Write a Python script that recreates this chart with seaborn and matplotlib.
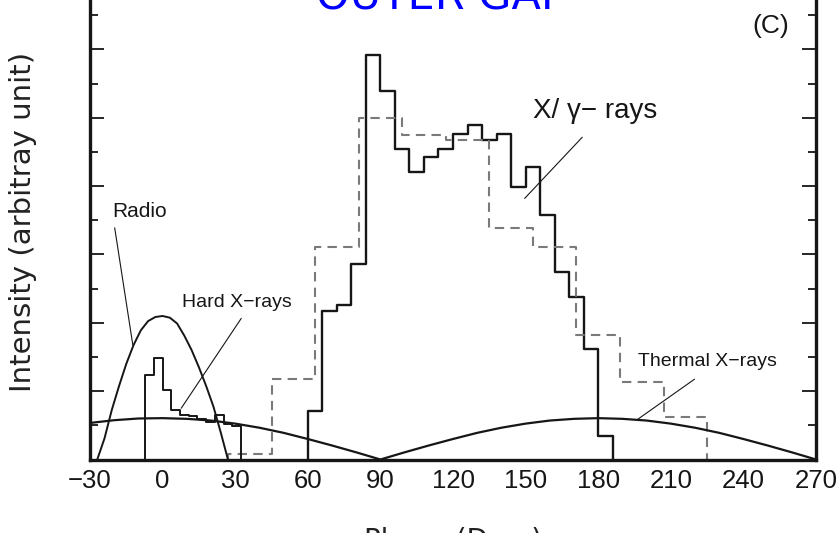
import numpy as np
import pandas as pd
import matplotlib
matplotlib.use("Agg")
import matplotlib.pyplot as plt
import seaborn as sns
from matplotlib.ticker import MultipleLocator

# X/gamma-ray light curve (solid), 6 deg bins starting at 60
xg_edges = np.arange(60, 187, 6)
xg_vals = [1.43, 4.35, 4.52, 5.71, 11.85, 10.79, 9.10, 8.40, 8.86, 9.08, 9.52,
           9.79, 9.35, 9.52, 7.96, 8.57, 7.15, 5.48, 4.76, 3.23, 0.68]

# model curve (dashed), 18 deg bins starting at 27
model_edges = np.arange(27, 226, 18)
model_vals = [0.15, 2.36, 6.21, 9.99, 9.50, 9.35, 6.77, 6.21, 3.64, 2.26, 1.24]

# hard X-ray pulse (solid), 3.6 deg bins
hard_edges = np.round(np.arange(-7.2, 32.5, 3.6), 1)
hard_vals = [2.48, 2.98, 2.02, 1.46, 1.29, 1.26, 1.19, 1.09, 1.29, 1.04, 0.97]

# radio pulse
radio_phase = [-27, -24, -21, -18, -15, -12, -9, -6, -3, 0, 3, 6, 9, 12, 15, 18, 21, 24, 27]
radio_vals = [0.0, 0.62, 1.45, 2.15, 2.80, 3.35, 3.78, 4.05, 4.17, 4.20, 4.15, 3.98,
              3.62, 3.20, 2.70, 2.15, 1.55, 0.80, 0.0]

# thermal X-rays
thermal_phase = list(range(-30, 271, 10))
thermal_vals = [1.07, 1.15, 1.20, 1.21, 1.19, 1.14, 1.05, 0.93, 0.78, 0.60, 0.41, 0.21, 0.0,
                0.21, 0.41, 0.60, 0.78, 0.93, 1.05, 1.14, 1.19, 1.21, 1.19, 1.14, 1.05,
                0.93, 0.78, 0.60, 0.41, 0.21, 0.0]

x_ticks = list(range(-30, 271, 30))

sns.set_style("white")
plt.rcParams["font.family"] = ["Liberation Sans", "DejaVu Sans"]


def step_frame(edges, vals):
    # outline of a histogram: up from the baseline, across the bins, back down
    xs = np.r_[edges[0], edges]
    ys = np.r_[0, vals, 0]
    return pd.DataFrame({"phase": xs, "intensity": ys})


fig = plt.figure(figsize=(8.4, 5.33), dpi=100)
ax = fig.add_axes([90 / 840, 73.5 / 533, 726 / 840, 478.4 / 533])

dark = "#161616"
sns.lineplot(data=step_frame(xg_edges, xg_vals), x="phase", y="intensity", ax=ax,
             drawstyle="steps-post", estimator=None, sort=False, color=dark, lw=1.7)
sns.lineplot(data=step_frame(model_edges, model_vals), x="phase", y="intensity", ax=ax,
             drawstyle="steps-post", estimator=None, sort=False, color="#7a7a7a",
             lw=1.5, dashes=False, linestyle=(0, (4.5, 3)))
sns.lineplot(data=step_frame(hard_edges, hard_vals), x="phase", y="intensity", ax=ax,
             drawstyle="steps-post", estimator=None, sort=False, color=dark, lw=1.4)
sns.lineplot(x=radio_phase, y=radio_vals, ax=ax, color=dark, lw=1.4,
             estimator=None, sort=False)
sns.lineplot(x=thermal_phase, y=thermal_vals, ax=ax, color=dark, lw=1.6,
             estimator=None, sort=False)

# labels with leader lines
lead = dict(color=dark, lw=0.8)
ax.plot([-19.8, -12.3], [6.78, 3.35], **lead)
ax.plot([32.5, 7.7], [4.13, 1.50], **lead)
ax.plot([173.4, 149.6], [9.43, 7.64], **lead)
ax.plot([219.8, 196.4], [2.35, 1.18], **lead)
ax.text(-9.5, 7.26, "Radio", ha="center", va="center", fontsize=15, color=dark)
ax.text(30.8, 4.59, "Hard X\u2212rays", ha="center", va="center", fontsize=14, color=dark)
ax.text(178.9, 10.2, "X/ \u03b3\u2212 rays", ha="center", va="center", fontsize=20, color=dark)
ax.text(225.2, 2.86, "Thermal X\u2212rays", ha="center", va="center", fontsize=14, color=dark)
ax.text(251.2, 12.69, "(C)", ha="center", va="center", fontsize=19, color=dark)

ax.set_xlim(-30, 270)
ax.set_ylim(0, 14)
ax.set_xticks(x_ticks)
ax.xaxis.set_minor_locator(MultipleLocator(15))
ax.yaxis.set_major_locator(MultipleLocator(2))
ax.yaxis.set_minor_locator(MultipleLocator(1))
ax.tick_params(axis="both", which="both", direction="in", width=1.3, colors=dark)
ax.tick_params(which="major", length=10)
ax.tick_params(which="minor", length=6)
ax.tick_params(axis="y", which="both", left=True, right=True, labelleft=False)
ax.tick_params(axis="x", which="both", top=False, labelsize=18.5, pad=7)
for side in ["left", "right", "bottom", "top"]:
    ax.spines[side].set_linewidth(2.4)
    ax.spines[side].set_color(dark)

ax.set_ylabel("Intensity (arbitray unit)", fontsize=21, family="DejaVu Sans", color="#222222")
ax.yaxis.set_label_coords(-0.073, 0.4965)
# the source image is cropped through the axis title and the caption
ax.set_xlabel("Phase (Deg.)", fontsize=20, family="DejaVu Sans", color="#222222")
ax.xaxis.set_label_coords(0.5, -0.141)

fig.text(0.5256, 1 - 10 / 533, "OUTER GAP", color="#0000ff", fontsize=31,
         family="DejaVu Sans", ha="center", va="baseline")

fig.savefig("out.png", dpi=100)
